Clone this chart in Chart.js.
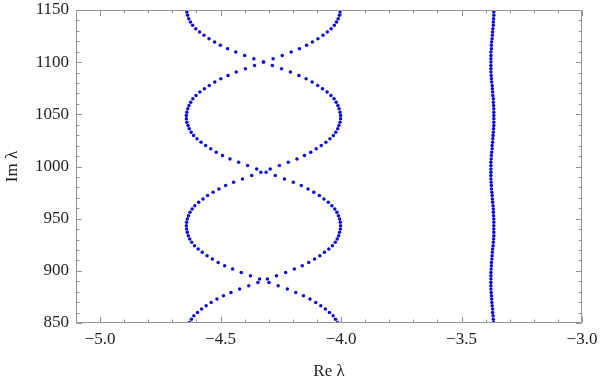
<!DOCTYPE html>
<html><head><meta charset="utf-8">
<script src="https://cdn.jsdelivr.net/npm/chart.js@4.4.1/dist/chart.umd.min.js"></script>
<style>html,body{margin:0;padding:0;background:#fff;}canvas{display:block;}</style>
</head><body>
<canvas id="c" width="600" height="384"></canvas>
<script>
const imVals = [850.5,853.7,856.9,860.1,863.3,866.5,869.7,872.9,876.1,879.3,
882.5,885.7,888.9,892.1,895.3,898.5,901.7,904.9,908.1,911.3,
914.5,917.7,920.9,924.1,927.3,930.5,933.7,936.9,940.1,943.3,
946.5,949.7,952.9,956.1,959.3,962.5,965.7,968.9,972.1,975.3,
978.5,981.7,984.9,988.1,991.3,994.5,997.7,1000.9,1004.1,1007.3,
1010.5,1013.7,1016.9,1020.1,1023.3,1026.5,1029.7,1032.9,1036.1,1039.3,
1042.5,1045.7,1048.9,1052.1,1055.3,1058.5,1061.7,1064.9,1068.1,1071.3,
1074.5,1077.7,1080.9,1084.1,1087.3,1090.5,1093.7,1096.9,1100.1,1103.3,
1106.5,1109.7,1112.9,1116.1,1119.3,1122.5,1125.7,1128.9,1132.1,1135.3,
1138.5,1141.7,1144.9,1148.1];

const reA = [-4.015,-4.023,-4.033,-4.048,-4.065,-4.084,-4.105,-4.129,-4.156,-4.188,
-4.223,-4.261,-4.299,-4.338,-4.376,-4.414,-4.450,-4.483,-4.510,-4.534,
-4.556,-4.576,-4.593,-4.608,-4.620,-4.628,-4.634,-4.638,-4.641,-4.642,
-4.641,-4.638,-4.633,-4.627,-4.618,-4.607,-4.591,-4.573,-4.554,-4.531,
-4.507,-4.479,-4.446,-4.409,-4.371,-4.333,-4.294,-4.256,-4.219,-4.183,
-4.152,-4.126,-4.103,-4.082,-4.063,-4.046,-4.032,-4.022,-4.014,-4.009,
-4.004,-4.002,-4.002,-4.004,-4.008,-4.013,-4.020,-4.029,-4.042,-4.058,
-4.077,-4.097,-4.120,-4.145,-4.175,-4.210,-4.247,-4.285,-4.323,-4.362,
-4.400,-4.437,-4.471,-4.501,-4.525,-4.548,-4.569,-4.587,-4.603,-4.616,
-4.625,-4.632,-4.637,-4.640];

const reB = [-4.629,-4.621,-4.611,-4.596,-4.579,-4.560,-4.539,-4.515,-4.488,-4.457,
-4.421,-4.383,-4.345,-4.306,-4.268,-4.230,-4.194,-4.161,-4.134,-4.110,
-4.088,-4.069,-4.051,-4.036,-4.024,-4.016,-4.010,-4.006,-4.003,-4.002,
-4.003,-4.006,-4.011,-4.017,-4.026,-4.038,-4.053,-4.071,-4.090,-4.113,
-4.137,-4.165,-4.198,-4.235,-4.273,-4.311,-4.350,-4.388,-4.425,-4.461,
-4.492,-4.518,-4.541,-4.562,-4.581,-4.598,-4.612,-4.622,-4.630,-4.635,
-4.640,-4.642,-4.642,-4.640,-4.636,-4.631,-4.624,-4.615,-4.602,-4.586,
-4.567,-4.547,-4.524,-4.499,-4.469,-4.435,-4.397,-4.359,-4.321,-4.282,
-4.244,-4.207,-4.173,-4.143,-4.119,-4.096,-4.075,-4.057,-4.041,-4.028,
-4.019,-4.012,-4.007,-4.004];

const reC = [-3.367,-3.368,-3.369,-3.371,-3.371,-3.373,-3.374,-3.375,-3.376,-3.377,
-3.378,-3.378,-3.378,-3.378,-3.378,-3.378,-3.377,-3.376,-3.376,-3.374,
-3.373,-3.372,-3.371,-3.369,-3.368,-3.367,-3.366,-3.366,-3.366,-3.366,
-3.366,-3.366,-3.367,-3.368,-3.368,-3.369,-3.371,-3.372,-3.373,-3.374,
-3.376,-3.376,-3.377,-3.378,-3.378,-3.378,-3.378,-3.378,-3.378,-3.377,
-3.376,-3.375,-3.373,-3.373,-3.371,-3.370,-3.369,-3.368,-3.367,-3.366,
-3.366,-3.366,-3.366,-3.366,-3.366,-3.367,-3.368,-3.368,-3.370,-3.371,
-3.372,-3.373,-3.375,-3.376,-3.377,-3.378,-3.378,-3.378,-3.378,-3.378,
-3.378,-3.378,-3.376,-3.376,-3.375,-3.373,-3.372,-3.371,-3.370,-3.368,
-3.368,-3.367,-3.366,-3.366];

const xTickVals = [-5.0,-4.5,-4.0,-3.5,-3.0];
const yTickVals = [850,900,950,1000,1050,1100,1150];
const xMinorVals = [-4.9,-4.8,-4.7,-4.6,-4.4,-4.3,-4.2,-4.1,-3.9,-3.8,-3.7,-3.6,-3.4,-3.3,-3.2,-3.1];
const yMinorVals = [860,870,880,890,910,920,930,940,960,970,980,990,1010,1020,1030,1040,1060,1070,1080,1090,1110,1120,1130,1140];

const frameColor = '#939393';
const textColor = '#1e1e1e';
const dotColor = 'rgb(10,10,215)';
const serif = "'Liberation Serif','DejaVu Serif',serif";

function fmtX(v){ return (v < 0 ? '\u2212' : '') + Math.abs(v).toFixed(1); }

const framePlugin = {
  id: 'frame',
  afterDatasetsDraw(chart){
    const {ctx, chartArea: a, scales: {x, y}} = chart;
    const L = Math.round(a.left) + 0.5, R = Math.round(a.right) - 0.5;
    const T = Math.round(a.top) + 0.5, B = Math.round(a.bottom) - 0.5;
    ctx.save();
    ctx.strokeStyle = frameColor;
    ctx.lineWidth = 1;
    ctx.beginPath();
    ctx.rect(L, T, R - L, B - T);
    const majLen = 5.5, minLen = 3;
    function xt(v, len){
      const p = Math.round(x.getPixelForValue(v)) + 0.5;
      ctx.moveTo(p, B); ctx.lineTo(p, B - len);
      ctx.moveTo(p, T); ctx.lineTo(p, T + len);
    }
    function yt(v, len){
      const p = Math.round(y.getPixelForValue(v)) + 0.5;
      ctx.moveTo(L, p); ctx.lineTo(L + len, p);
      ctx.moveTo(R, p); ctx.lineTo(R - len, p);
    }
    xTickVals.forEach(v => xt(v, majLen));
    xMinorVals.forEach(v => xt(v, minLen));
    yTickVals.forEach(v => yt(v, majLen));
    yMinorVals.forEach(v => yt(v, minLen));
    ctx.stroke();
    ctx.restore();
  }
};

const datasets = [reA, reB, reC].map(arr => ({
  data: arr.map((xv, i) => ({x: xv, y: imVals[i]})),
  pointRadius: 1.75,
  pointBorderWidth: 0,
  pointBackgroundColor: dotColor,
  showLine: false
}));

new Chart(document.getElementById('c'), {
  type: 'scatter',
  data: {datasets},
  plugins: [framePlugin],
  options: {
    responsive: false,
    animation: false,
    devicePixelRatio: 1,
    layout: {padding: {top: 10, right: 18, left: 0, bottom: 0}},
    plugins: {legend: {display: false}, tooltip: {enabled: false}},
    scales: {
      x: {
        type: 'linear', min: -5.1, max: -3.0,
        afterBuildTicks(s){ s.ticks = xTickVals.map(v => ({value: v})); },
        afterFit(s){ s.height = 61; s.paddingLeft = 0; s.paddingRight = 0; },
        grid: {display: false, drawTicks: false, tickLength: 0},
        border: {display: false},
        ticks: {callback: v => fmtX(v), font: {family: serif, size: 17}, color: textColor, padding: 6, maxRotation: 0, autoSkip: false},
        title: {display: true, text: 'Re λ', font: {family: serif, size: 17}, color: textColor, padding: {top: 0, bottom: 2}}
      },
      y: {
        type: 'linear', min: 850, max: 1150,
        afterBuildTicks(s){ s.ticks = yTickVals.map(v => ({value: v})); },
        afterFit(s){ s.width = 76; s.paddingTop = 0; s.paddingBottom = 0; },
        grid: {display: false, drawTicks: false, tickLength: 0},
        border: {display: false},
        ticks: {callback: v => String(v), font: {family: serif, size: 17}, color: textColor, padding: 7, autoSkip: false},
        title: {display: true, text: 'Im λ', font: {family: serif, size: 17}, color: textColor, padding: {top: 2, bottom: 0}}
      }
    }
  }
});
</script>
</body></html>
